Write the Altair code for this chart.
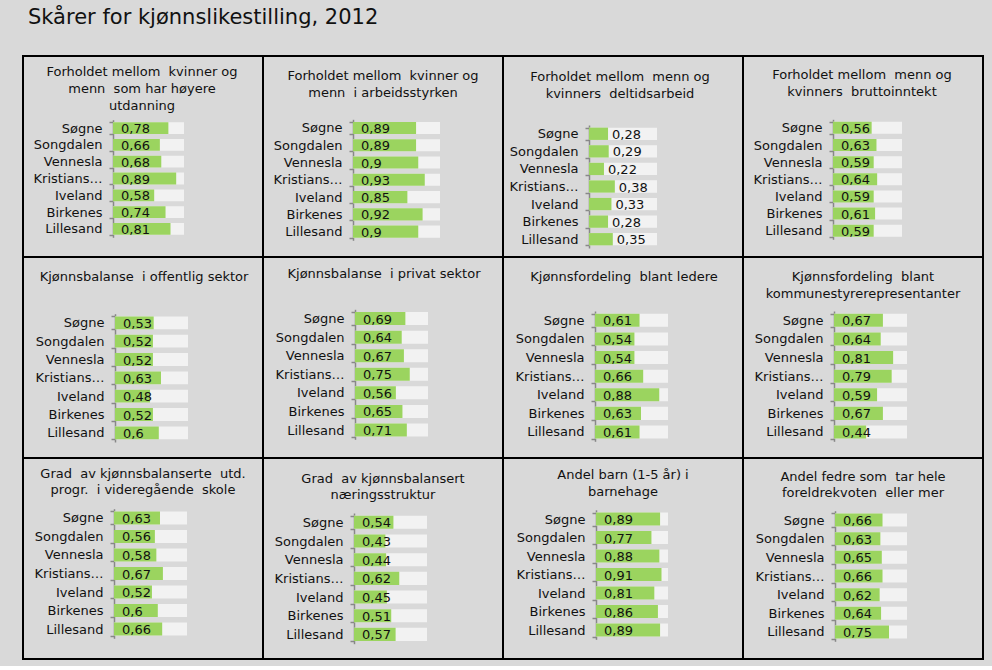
import altair as alt
import pandas as pd

# ---------------- data ----------------
kommuner = ["Søgne", "Songdalen", "Vennesla", "Kristiansand", "Iveland", "Birkenes", "Lillesand"]

titles = [
    ["Forholdet mellom  kvinner og", "menn  som har høyere", "utdanning"],
    ["Forholdet mellom  kvinner og", "menn  i arbeidsstyrken"],
    ["Forholdet mellom  menn og", "kvinners  deltidsarbeid"],
    ["Forholdet mellom  menn og", "kvinners  bruttoinntekt"],
    ["Kjønnsbalanse  i offentlig sektor"],
    ["Kjønnsbalanse  i privat sektor"],
    ["Kjønnsfordeling  blant ledere"],
    ["Kjønnsfordeling  blant", "kommunestyrerepresentanter"],
    ["Grad  av kjønnsbalanserte  utd.", "progr.  i videregående  skole"],
    ["Grad  av kjønnsbalansert", "næringsstruktur"],
    ["Andel barn (1-5 år) i", "barnehage"],
    ["Andel fedre som  tar hele", "foreldrekvoten  eller mer"],
]

v_utdanning = [0.78, 0.66, 0.68, 0.89, 0.58, 0.74, 0.81]
v_arbeid = [0.89, 0.89, 0.9, 0.93, 0.85, 0.92, 0.9]
v_deltid = [0.28, 0.29, 0.22, 0.38, 0.33, 0.28, 0.35]
v_inntekt = [0.56, 0.63, 0.59, 0.64, 0.59, 0.61, 0.59]
v_offentlig = [0.53, 0.52, 0.52, 0.63, 0.48, 0.52, 0.6]
v_privat = [0.69, 0.64, 0.67, 0.75, 0.56, 0.65, 0.71]
v_ledere = [0.61, 0.54, 0.54, 0.66, 0.88, 0.63, 0.61]
v_kommunestyre = [0.67, 0.64, 0.81, 0.79, 0.59, 0.67, 0.44]
v_vgs = [0.63, 0.56, 0.58, 0.67, 0.52, 0.6, 0.66]
v_naering = [0.54, 0.43, 0.44, 0.62, 0.45, 0.51, 0.57]
v_barnehage = [0.89, 0.77, 0.88, 0.91, 0.81, 0.86, 0.89]
v_fedre = [0.66, 0.63, 0.65, 0.66, 0.62, 0.64, 0.75]

series = [v_utdanning, v_arbeid, v_deltid, v_inntekt, v_offentlig, v_privat,
          v_ledere, v_kommunestyre, v_vgs, v_naering, v_barnehage, v_fedre]

axis_min = [0, 0.6, 0, 0, 0, 0, 0, 0, 0, 0, 0, 0]
axis_max = [1] * 12

# ---------------- layout / style ----------------
label_mode = ["base", "base", "end"] + ["base"] * 9
# per panel: axis x, bar-track width, y range top/bottom, title first-line centre, title centre x
layout = [
    (90, 71, 63.7, 181.3, 16.3, 119),
    (90, 87, 63.3, 184.3, 20.0, 120),
    (86, 68, 69.0, 192.0, 21.3, 117),
    (90, 69, 63.3, 183.3, 19.0, 119),
    (92, 73, 56.7, 185.0, 20.0, 121),
    (92, 73, 52.3, 182.3, 17.3, 121),
    (92, 73, 54.0, 184.3, 20.0, 121),
    (91, 73, 54.0, 184.3, 20.0, 120),
    (91, 73, 50.7, 180.3, 15.7, 120),
    (91, 73, 55.0, 185.7, 20.7, 120),
    (93, 72, 51.8, 181.3, 17.0, 120),
    (92, 72, 52.7, 183.3, 18.7, 120),
]

FONT = "DejaVu Sans"
GREEN = "#9BD45F"
TRACK = "#F2F2F2"
BG = "#D9D9D9"
AXIS = "#888888"
TEXT = "#111111"
PW, PH = 240, 201


def fmt(v):
    return f"{v:g}".replace(".", ",")


def nb(s):
    return s.replace("  ", "\u00a0 ")


def panel(i):
    ax, bw, y0, y1, ty, cx = layout[i]
    lo, hi = axis_min[i], axis_max[i]
    df = pd.DataFrame({
        "kommune": kommuner,
        "value": series[i],
        "full": [hi] * len(kommuner),
        "label": [fmt(v) for v in series[i]],
    })
    y = alt.Y(
        "kommune:N", sort=kommuner, title=None,
        scale=alt.Scale(range=[y0, y1], paddingInner=0.3, paddingOuter=0.15),
        axis=alt.Axis(orient="left", offset=-ax, domainColor=AXIS, domainWidth=1.5,
                      tickColor=AXIS, tickWidth=1.5, tickSize=4, tickBand="extent",
                      labelPadding=7, labelFont=FONT, labelFontSize=13, labelColor=TEXT,
                      labelLimit=70, grid=False),
    )
    xs = alt.Scale(domain=[lo, hi], range=[ax, ax + bw], nice=False, zero=False)
    base = alt.Chart(df)
    track = base.mark_bar(color=TRACK).encode(
        y=y, x=alt.X("full:Q", scale=xs, axis=None, title=None), x2=alt.datum(lo))
    bars = base.mark_bar(color=GREEN).encode(
        y=y, x=alt.X("value:Q", scale=xs, axis=None, title=None), x2=alt.datum(lo))
    if label_mode[i] == "base":
        txt = base.mark_text(align="left", baseline="middle", dx=8, dy=1, font=FONT,
                             fontSize=13, color=TEXT).encode(
            y=y, x=alt.datum(lo), text="label:N")
    else:
        txt = base.mark_text(align="left", baseline="middle", dx=4, dy=1, font=FONT,
                             fontSize=13, color=TEXT).encode(
            y=y, x=alt.X("value:Q", scale=xs, axis=None), text="label:N")
    ttl = alt.Chart(pd.DataFrame({"panel": [i]})).mark_text(
        align="center", baseline="top", font=FONT, fontSize=13, lineHeight=16.7,
        color=TEXT).encode(
        x=alt.value(cx), y=alt.value(ty - 6),
        text=alt.value([nb(t) for t in titles[i]]))
    return alt.layer(track, bars, txt, ttl).properties(width=PW, height=PH)


chart = alt.concat(
    *[panel(i) for i in range(12)], columns=4, spacing=0, bounds="flush"
).resolve_scale(
    x="independent", y="independent"
).properties(
    title=alt.TitleParams(
        "Skårer for kjønnslikestilling, 2012", anchor="start", font=FONT, fontSize=21,
        fontWeight="normal", color=TEXT, dx=6, baseline="alphabetic", offset=4),
    background=BG,
    padding={"left": 22, "top": 7, "right": 8, "bottom": 6},
).configure_view(stroke="black", strokeWidth=2)

chart.save("out.html", embed_options={"renderer": "svg", "actions": False})
